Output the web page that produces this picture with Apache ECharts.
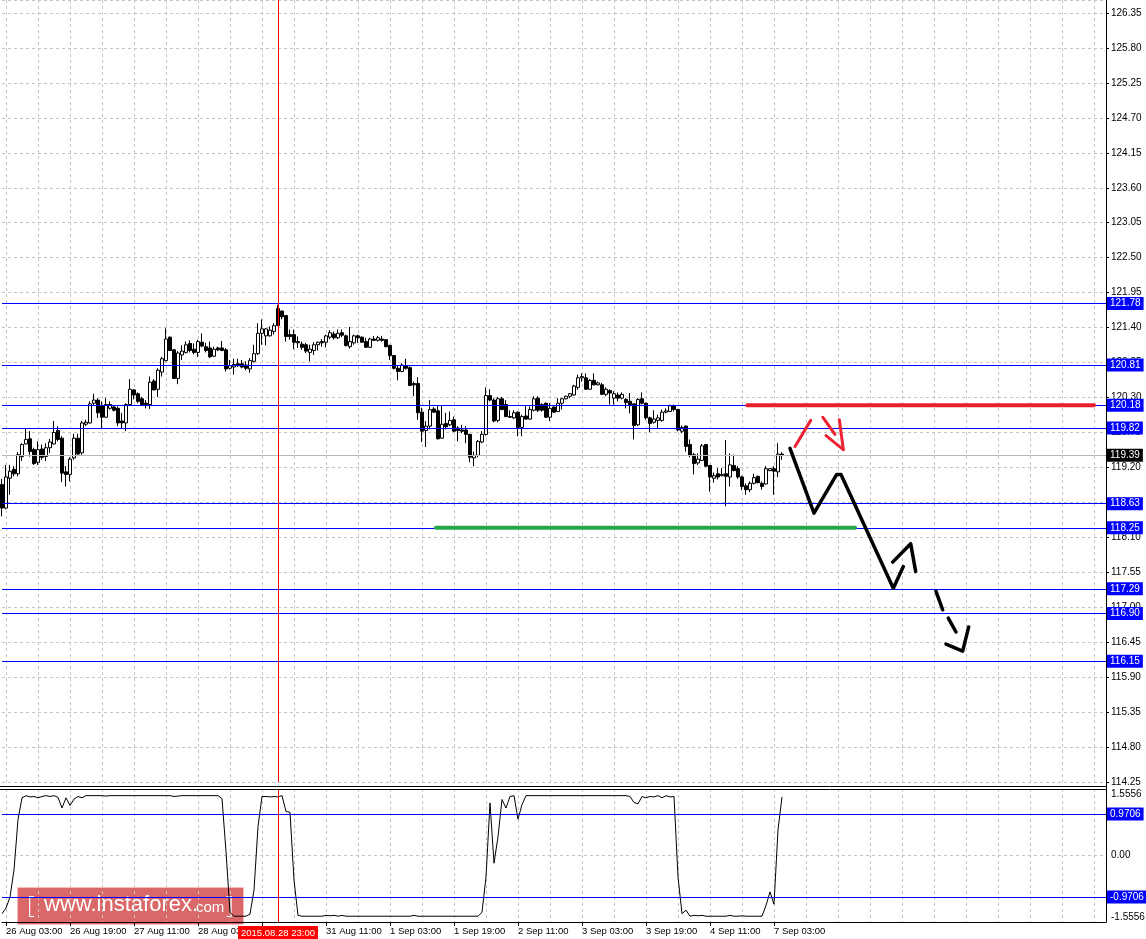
<!DOCTYPE html>
<html><head><meta charset="utf-8">
<script src="https://cdn.jsdelivr.net/npm/echarts@6/dist/echarts.min.js"></script>
<style>html,body{margin:0;padding:0;background:#fff}#c{width:1146px;height:939px}</style>
</head><body><div id="c"></div>
<script>
// ---------- DATA (H1 bars, 26 Aug 02:00 .. 7 Sep 05:00) ----------
const opens = [
118.93,118.56,119.03,119.17,119.10,119.37,119.57,119.65,119.48,119.28,
119.49,119.37,119.51,119.57,119.78,119.66,119.13,119.09,119.35,119.66,
119.43,119.88,119.90,120.21,120.26,120.17,119.99,120.13,120.15,120.13,
119.93,119.90,120.19,120.42,120.36,120.28,120.21,120.19,120.56,120.43,
120.70,120.88,121.25,121.05,120.60,120.97,121.01,121.15,121.06,121.01,
121.17,121.10,121.08,120.95,121.08,121.08,121.05,120.76,120.78,120.83,
120.83,120.81,120.75,120.87,120.99,121.31,121.27,121.27,121.34,121.70,
121.66,121.59,121.29,121.29,121.18,121.14,121.13,121.01,121.04,121.13,
121.18,121.17,121.25,121.30,121.24,121.32,121.27,121.10,121.16,121.27,
121.25,121.18,121.09,121.22,121.20,121.22,121.21,121.12,120.96,120.76,
120.71,120.80,120.77,120.52,120.52,120.07,119.78,119.85,120.12,120.09,
119.66,119.89,119.87,119.95,119.82,119.79,119.79,119.72,119.35,119.39,
119.60,119.72,120.33,120.26,119.94,120.28,120.19,120.00,119.98,120.07,
119.83,120.01,119.96,120.10,120.29,120.19,120.21,119.99,120.15,120.08,
120.21,120.28,120.32,120.34,120.46,120.61,120.61,120.43,120.57,120.50,
120.50,120.35,120.41,120.29,120.34,120.29,120.27,120.24,120.20,119.87,
120.28,120.21,119.98,119.91,119.94,119.94,120.07,120.08,120.17,120.11,
119.77,119.85,119.56,119.40,119.27,119.31,119.56,119.23,119.03,119.10,
119.07,119.10,119.05,119.23,119.18,119.05,118.91,118.85,118.95,119.06,
118.95,118.94,119.15,119.18,119.13,119.41];
const closes = [
118.56,119.05,119.14,119.10,119.40,119.56,119.64,119.45,119.26,119.48,
119.36,119.51,119.60,119.75,119.64,119.11,119.09,119.33,119.66,119.41,
119.90,119.91,120.20,120.26,120.06,119.99,120.19,120.19,120.10,119.90,
119.90,120.19,120.43,120.34,120.24,120.19,120.19,120.54,120.42,120.73,
120.91,121.22,121.04,120.60,121.00,121.03,121.13,121.04,121.01,121.18,
121.11,121.04,120.94,121.06,121.05,121.04,120.75,120.80,120.82,120.80,
120.78,120.76,120.88,120.99,121.31,121.38,121.38,121.36,121.43,121.43,
121.57,121.26,121.26,121.17,121.16,121.09,121.03,121.06,121.13,121.17,
121.16,121.27,121.32,121.24,121.31,121.28,121.12,121.18,121.27,121.24,
121.17,121.09,121.22,121.20,121.24,121.20,121.10,120.96,120.76,120.71,
120.81,120.76,120.49,120.50,120.06,119.77,119.85,120.11,120.07,119.65,
119.88,119.84,119.94,119.77,119.78,119.77,119.72,119.36,119.39,119.61,
119.72,120.33,120.26,119.93,120.28,120.11,120.00,119.99,120.06,119.83,
120.00,119.96,120.11,120.28,120.10,120.10,119.99,120.13,120.07,120.21,
120.28,120.32,120.36,120.48,120.61,120.63,120.43,120.57,120.50,120.53,
120.35,120.43,120.37,120.36,120.29,120.35,120.22,120.19,119.86,120.27,
120.21,119.98,119.89,119.96,119.98,120.07,120.09,120.17,120.11,119.79,
119.83,119.53,119.39,119.26,119.33,119.54,119.22,119.05,119.07,119.05,
119.09,119.06,119.24,119.15,119.05,118.90,118.85,118.95,119.04,118.96,
118.90,119.18,119.18,119.14,119.41,119.39];
const lows = [
118.43,118.54,118.77,119.06,119.06,119.30,119.56,119.37,119.24,119.24,
119.32,119.30,119.43,119.56,119.61,118.97,118.90,118.98,119.32,119.40,
119.40,119.85,119.89,120.17,119.98,119.80,119.98,120.11,120.08,119.85,
119.82,119.77,120.17,120.27,120.21,120.17,120.13,120.12,120.41,120.31,
120.63,120.87,121.03,120.60,120.51,120.89,120.99,121.01,120.98,120.94,
121.09,121.01,120.92,120.94,121.03,121.03,120.71,120.74,120.66,120.78,
120.76,120.73,120.69,120.85,120.97,121.13,121.12,121.26,121.29,121.43,
121.53,121.18,121.21,121.06,121.08,121.05,121.00,120.87,120.97,121.04,
121.10,121.09,121.22,121.21,121.22,121.25,121.10,121.07,121.13,121.16,
121.16,121.08,121.08,121.19,121.18,121.18,121.09,120.89,120.74,120.57,
120.70,120.74,120.48,120.32,119.95,119.60,119.52,119.80,120.06,119.64,
119.65,119.80,119.85,119.76,119.61,119.74,119.58,119.28,119.22,119.36,
119.58,119.70,120.24,119.91,119.91,120.10,119.99,119.98,119.96,119.69,
119.69,119.95,119.95,120.08,120.07,120.08,119.98,119.93,120.06,120.07,
120.11,120.27,120.29,120.33,120.42,120.55,120.43,120.42,120.49,120.49,
120.34,120.32,120.19,120.19,120.24,120.27,120.13,120.05,119.64,119.85,
120.19,119.95,119.75,119.89,119.82,119.92,120.05,120.07,120.08,119.77,
119.74,119.45,119.36,119.09,119.24,119.30,119.21,118.82,118.96,119.01,
119.06,118.59,118.90,119.14,119.02,118.84,118.77,118.81,118.93,118.95,
118.85,118.93,119.14,118.77,119.05,119.32];
const highs = [
119.02,119.24,119.24,119.22,119.44,119.58,119.81,119.77,119.51,119.61,
119.56,119.58,119.65,119.93,119.85,119.69,119.22,119.36,119.73,119.73,
119.93,119.95,120.24,120.36,120.29,120.24,120.29,120.24,120.17,120.16,
120.06,120.21,120.59,120.43,120.38,120.31,120.26,120.63,120.59,120.76,
120.94,121.39,121.26,121.06,121.03,121.12,121.18,121.20,121.15,121.21,
121.31,121.16,121.18,121.10,121.10,121.19,121.08,120.89,120.91,120.91,
120.89,120.87,120.92,121.13,121.47,121.53,121.39,121.42,121.47,121.76,
121.67,121.59,121.37,121.37,121.26,121.18,121.16,121.13,121.17,121.18,
121.22,121.29,121.36,121.34,121.37,121.37,121.29,121.41,121.29,121.29,
121.26,121.24,121.24,121.27,121.27,121.27,121.22,121.13,120.97,120.80,
120.84,120.91,120.79,120.55,120.62,120.14,119.93,120.26,120.15,120.17,
120.17,120.06,120.08,120.00,119.85,119.87,119.85,119.73,119.45,119.63,
119.77,120.46,120.43,120.29,120.31,120.31,120.26,120.10,120.10,120.08,
120.03,120.17,120.16,120.32,120.32,120.21,120.22,120.21,120.16,120.29,
120.29,120.33,120.37,120.50,120.66,120.68,120.68,120.59,120.68,120.55,
120.53,120.46,120.43,120.40,120.38,120.38,120.29,120.37,120.20,120.29,
120.38,120.22,120.00,120.10,120.03,120.11,120.13,120.19,120.19,120.12,
119.86,119.86,119.64,119.43,119.42,119.57,119.57,119.24,119.12,119.19,
119.19,119.63,119.42,119.40,119.22,119.07,118.95,118.98,119.10,119.07,
118.98,119.22,119.19,119.22,119.58,119.44];
const oscillator = [
-1.36,-1.23,-0.97,-0.34,0.84,1.35,1.40,1.37,1.38,1.35,
1.38,1.40,1.38,1.40,1.36,1.11,1.35,1.17,1.32,1.38,
1.35,1.40,1.40,1.40,1.40,1.40,1.39,1.40,1.40,1.40,
1.40,1.40,1.40,1.40,1.40,1.40,1.40,1.40,1.40,1.40,
1.40,1.40,1.40,1.38,1.39,1.40,1.40,1.40,1.40,1.40,
1.40,1.40,1.40,1.40,1.40,1.33,0.09,-1.33,-1.42,-1.42,
-1.42,-1.42,-1.37,-0.81,0.68,1.38,1.38,1.37,1.38,1.37,
1.40,1.03,1.01,-0.58,-1.40,-1.42,-1.42,-1.42,-1.42,-1.42,
-1.42,-1.40,-1.41,-1.40,-1.42,-1.40,-1.42,-1.42,-1.42,-1.42,
-1.42,-1.42,-1.42,-1.42,-1.42,-1.42,-1.42,-1.42,-1.42,-1.42,
-1.42,-1.42,-1.42,-1.40,-1.42,-1.42,-1.42,-1.42,-1.42,-1.42,
-1.42,-1.42,-1.42,-1.42,-1.42,-1.42,-1.42,-1.42,-1.42,-1.42,
-1.33,-0.50,1.23,-0.18,0.44,1.31,1.11,1.38,1.40,0.85,
1.19,1.40,1.40,1.40,1.40,1.40,1.40,1.40,1.40,1.40,
1.40,1.40,1.40,1.40,1.40,1.40,1.40,1.40,1.40,1.40,
1.40,1.40,1.40,1.40,1.40,1.40,1.40,1.38,1.24,1.21,
1.38,1.35,1.38,1.37,1.40,1.35,1.40,1.37,1.38,-0.50,
-1.36,-1.28,-1.42,-1.40,-1.41,-1.40,-1.42,-1.42,-1.42,-1.42,
-1.42,-1.42,-1.40,-1.42,-1.42,-1.41,-1.42,-1.42,-1.42,-1.42,
-1.42,-1.17,-0.85,-1.14,0.60,1.37];

const TOTAL_SLOTS = 277;          // hourly slots incl. empty future area
const timeLabels = ['26 Aug 03:00','26 Aug 19:00','27 Aug 11:00','28 Aug 03:00','28 Aug 19:00',
  '31 Aug 11:00','1 Sep 03:00','1 Sep 19:00','2 Sep 11:00','3 Sep 03:00','3 Sep 19:00','4 Sep 11:00','7 Sep 03:00'];
const FIRST_LABEL_BAR = 1, LABEL_EVERY = 16, GRID_EVERY = 8;
const priceTicks = {min: 114.25, step: 0.55, top: 126.555};
const oscRange = 1.5556;

const levels = [121.78, 120.81, 120.18, 119.82, 118.63, 118.25, 117.29, 116.90, 116.15];
const currentPrice = 119.39;
const oscLevels = [0.9706, -0.9706];
const markedBar = '69';
const markedBarText = '2015.08.28 23:00';

// hand-drawn annotations: [bar index, price]
const redZone = [[186.3, 120.18], [273, 120.18]];
const greenZone = [[108.5, 118.25], [213.25, 118.25]];
const redStrokes = [
  [[198.25,119.53],[202.18,119.94]],
  [[205.18,119.99],[208.25,119.72]],
  [[206.0,119.70],[210.33,119.48]],
  [[209.33,119.95],[210.33,119.48]]
];
const blackStrokes = [
  [[197,119.50],[203,118.48],[208.67,119.09],[209.75,119.09],[222.83,117.30],[225.33,117.64]],
  [[222.67,117.71],[227.17,118.00],[228.42,117.56]],
  [[233.5,117.25],[235.17,116.96]],
  [[236.58,116.83],[238.5,116.61]],
  [[236,116.42],[240.17,116.31],[241.67,116.69]]
];

// ---------- CHART ----------
const FONT = 'Liberation Sans';
const cats = Array.from({length: TOTAL_SLOTS}, (_, i) => String(i));
const ohlc = opens.map((o, i) => [o, closes[i], lows[i], highs[i]]);
const isGridIdx = i => i >= FIRST_LABEL_BAR && (i - FIRST_LABEL_BAR) % GRID_EVERY === 0;
const isLabelIdx = i => i >= FIRST_LABEL_BAR && (i - FIRST_LABEL_BAR) % LABEL_EVERY === 0 &&
  (i - FIRST_LABEL_BAR) / LABEL_EVERY < timeLabels.length;
const gridLine = {show: true, lineStyle: {color: '#c4c4c4', type: [3, 3], width: 1}};

const boxLabel = (bg, digits) => ({
  show: true, position: 'end', distance: 1,
  formatter: p => Number(p.value).toFixed(digits),
  backgroundColor: bg, color: '#fff', padding: [2, 3, 1, 3],
  fontFamily: FONT, fontSize: 10
});

const strokeSeries = (pts, color, width) => ({
  type: 'line', xAxisIndex: 1, yAxisIndex: 0, data: pts, showSymbol: false, symbol: 'none',
  z: 10, silent: true, animation: false,
  lineStyle: {color: color, width: width, cap: 'round', join: 'round'}
});

const option = {
  animation: false,
  backgroundColor: '#ffffff',
  textStyle: {fontFamily: FONT},
  grid: [
    {left: 2, right: 40, top: 0, height: 782, containLabel: false, outerBoundsMode: 'none'},
    {left: 2, right: 40, top: 789, height: 133, containLabel: false, outerBoundsMode: 'none'}
  ],
  xAxis: [
    {type: 'category', gridIndex: 0, data: cats, boundaryGap: false,
     axisLine: {show: false, onZero: false}, axisTick: {show: false}, axisLabel: {show: false},
     splitLine: Object.assign({interval: (i) => isGridIdx(i)}, gridLine)},
    {type: 'value', gridIndex: 0, min: 0, max: TOTAL_SLOTS - 1, show: false,
     axisLine: {show: false, onZero: false}},
    {type: 'category', gridIndex: 1, data: cats, boundaryGap: false,
     axisLine: {show: true, onZero: false, lineStyle: {color: '#000', width: 1}},
     axisTick: {show: true, inside: false, length: 4, interval: (i) => isLabelIdx(i), lineStyle: {color: '#000'}},
     axisLabel: {show: true, interval: (i) => isLabelIdx(i), align: 'left', margin: 4,
       color: '#000', fontFamily: FONT, fontSize: 9.5,
       formatter: (v, i) => isLabelIdx(i) ? timeLabels[(i - FIRST_LABEL_BAR) / LABEL_EVERY] : ''},
     splitLine: Object.assign({interval: (i) => isGridIdx(i)}, gridLine)}
  ],
  yAxis: [
    {type: 'value', gridIndex: 0, position: 'right', min: priceTicks.min, max: priceTicks.top,
     interval: priceTicks.step,
     axisLine: {show: true, onZero: false, lineStyle: {color: '#000'}},
     axisTick: {show: true, length: 3, lineStyle: {color: '#000'}},
     axisLabel: {show: true, margin: 5, color: '#000', fontFamily: FONT, fontSize: 10,
       showMaxLabel: false, formatter: v => v.toFixed(2)},
     splitLine: gridLine},
    {type: 'value', gridIndex: 1, position: 'right', min: -oscRange, max: oscRange, interval: oscRange,
     axisLine: {show: true, onZero: false, lineStyle: {color: '#000'}},
     axisTick: {show: false},
     axisLabel: {show: true, margin: 5, color: '#000', fontFamily: FONT, fontSize: 10,
       verticalAlignMaxLabel: 'top', verticalAlignMinLabel: 'bottom',
       formatter: v => Math.abs(v) < 1e-9 ? '0.00' : v.toFixed(4)},
     splitLine: gridLine}
  ],
  series: [
    {type: 'candlestick', xAxisIndex: 0, yAxisIndex: 0, data: ohlc, barWidth: 3, clip: false,
     silent: true,
     itemStyle: {color: '#ffffff', color0: '#000000', borderColor: '#000000', borderColor0: '#000000', borderWidth: 1},
     markLine: {
       silent: true, symbol: ['none', 'none'], animation: false, precision: 2,
       data: levels.map(v => ({yAxis: v, lineStyle: {color: '#0000ff', width: 1, type: 'solid'}, label: boxLabel('#0000ff', 2)}))
         .concat([
           {yAxis: currentPrice, lineStyle: {color: '#b8b8b8', width: 1, type: 'solid'}, label: boxLabel('#000000', 2)},
           {xAxis: markedBar, lineStyle: {color: '#ff0000', width: 1, type: 'solid'}, label: {show: false}}
         ])
     }},
    {type: 'line', xAxisIndex: 2, yAxisIndex: 1, data: oscillator, showSymbol: false, symbol: 'none',
     silent: true, lineStyle: {color: '#000', width: 1},
     markLine: {
       silent: true, symbol: ['none', 'none'], animation: false, precision: 4,
       data: oscLevels.map(v => ({yAxis: v, lineStyle: {color: '#0000ff', width: 1, type: 'solid'}, label: boxLabel('#0000ff', 4)}))
         .concat([{xAxis: markedBar, lineStyle: {color: '#ff0000', width: 1, type: 'solid'},
           label: {show: true, position: 'start', distance: 4, formatter: markedBarText,
             backgroundColor: '#ff0000', color: '#fff', padding: [2, 3, 1, 3], fontFamily: FONT, fontSize: 9.5}}])
     }},
    strokeSeries(redZone, '#e8202a', 4),
    strokeSeries(greenZone, '#24a84a', 4),
    ...redStrokes.map(s => strokeSeries(s, '#ee2230', 3)),
    ...blackStrokes.map(s => strokeSeries(s, '#000000', 3.5))
  ],
  graphic: [
    {type: 'line', z: 20, silent: true, shape: {x1: 0, y1: 786.5, x2: 1106, y2: 786.5}, style: {stroke: '#000', lineWidth: 1}},
    {type: 'line', z: 20, silent: true, shape: {x1: 0, y1: 789.5, x2: 1106, y2: 789.5}, style: {stroke: '#000', lineWidth: 1}},
    {type: 'line', z: 20, silent: true, shape: {x1: 1106.5, y1: 0, x2: 1106.5, y2: 922}, style: {stroke: '#000', lineWidth: 1}},
    {type: 'group', z: 30, silent: true, children: [
      {type: 'rect', shape: {x: 17.5, y: 887.5, width: 226, height: 37}, style: {fill: 'rgba(200,32,32,0.68)', stroke: 'rgba(255,190,190,0.8)', lineWidth: 1}},
      {type: 'text', style: {x: 27, y: 906, text: '[', fill: '#fff', font: '300 24px "Open Sans"', verticalAlign: 'middle'}},
      {type: 'text', style: {x: 44, y: 905, text: 'www.instaforex.', fill: '#fff', font: '22px "Liberation Sans"', verticalAlign: 'middle'}},
      {type: 'text', style: {x: 196, y: 908, text: 'com', fill: '#fff', font: '15px "Liberation Sans"', verticalAlign: 'middle'}},
      {type: 'text', style: {x: 226, y: 906, text: ']', fill: '#fff', font: '300 24px "Open Sans"', verticalAlign: 'middle'}}
    ]}
  ]
};
const chart = echarts.init(document.getElementById('c'), null, {renderer: 'canvas'});
chart.setOption(option);
</script>
</body></html>
